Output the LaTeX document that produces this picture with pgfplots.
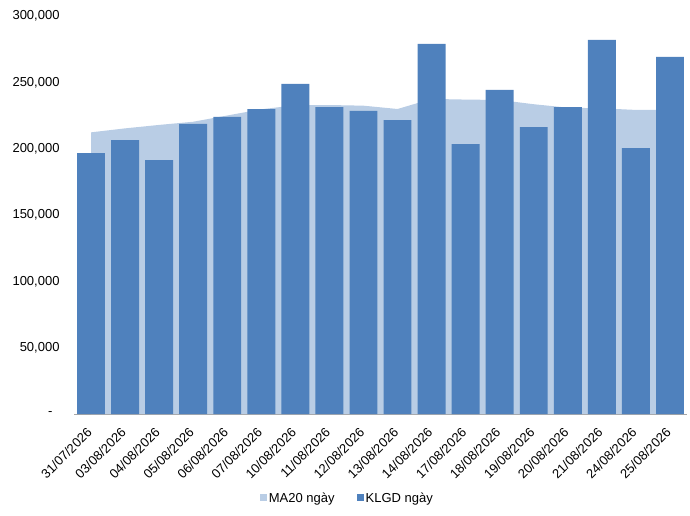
\documentclass[border=0pt]{standalone}
\usepackage{pgfplots}
\pgfplotsset{compat=1.18}
\usepackage{fontspec}
\setmainfont{Liberation Sans}
\definecolor{barblue}{HTML}{4F81BD}
\definecolor{areablue}{HTML}{B9CDE5}
\definecolor{axgray}{HTML}{A6A6A6}
\begin{document}
\begin{tikzpicture}[x=1pt,y=1pt,font=\fontsize{13}{15}\selectfont]
\useasboundingbox (0,0) rectangle (690,515);
\begin{axis}[
  at={(74pt,101pt)}, anchor=south west,
  scale only axis, width=613pt, height=398pt,
  xmin=-0.5, xmax=17.5, ymin=0, ymax=300000,
  scaled y ticks=false,
  axis x line*=bottom, axis y line*=left,
  y axis line style={draw=none},
  x axis line style={axgray, line width=0.8pt},
  xtick={0,...,17},
  xticklabels={31/07/2026,03/08/2026,04/08/2026,05/08/2026,06/08/2026,07/08/2026,10/08/2026,11/08/2026,12/08/2026,13/08/2026,14/08/2026,17/08/2026,18/08/2026,19/08/2026,20/08/2026,21/08/2026,24/08/2026,25/08/2026},
  xtick style={draw=none},
  minor xtick={-0.5,0.5,1.5,2.5,3.5,4.5,5.5,6.5,7.5,8.5,9.5,10.5,11.5,12.5,13.5,14.5,15.5,16.5,17.5},
  minor tick length=5pt,
  minor x tick style={axgray, line width=0.8pt},
  tick align=outside,
  xticklabel style={xshift=-5pt, yshift=-7pt, rotate=45, anchor=north east, inner sep=1pt},
  ytick={0,50000,100000,150000,200000,250000,300000},
  yticklabels={{-\hspace*{7pt}},{50,000},{100,000},{150,000},{200,000},{250,000},{300,000}},
  ytick style={draw=none},
  yticklabel style={inner sep=2pt, xshift=-8pt},
  legend columns=2,
  legend style={draw=none, fill=none, at={(0.446,-0.211)}, anchor=center,
    /tikz/every even column/.append style={column sep=20pt}, font=\fontsize{13}{15}\selectfont},
  legend image code/.code={\fill[#1] (0pt,-3.5pt) rectangle (7pt,3.5pt);},
]
\addplot[fill=areablue, draw=none] coordinates {
 (0,212300) (1,215300) (2,217900) (3,220300) (4,225000) (5,229700) (6,232700) (7,232900) (8,232400)
 (9,229900) (10,237500) (11,237000) (12,236700) (13,233500) (14,230900) (15,230400) (16,229200) (17,229200)
} \closedcycle;
\addlegendentry{MA20 ngày}
\addplot[ybar, bar width=0.82, fill=barblue, draw=none] coordinates {
 (0,196700) (1,206500) (2,191400) (3,218600) (4,223900) (5,229900) (6,248800) (7,231400) (8,228400)
 (9,221600) (10,279000) (11,203500) (12,244300) (13,216300) (14,231400) (15,282000) (16,200500) (17,269200)
};
\addlegendentry{KLGD ngày}
\end{axis}
\end{tikzpicture}
\end{document}
